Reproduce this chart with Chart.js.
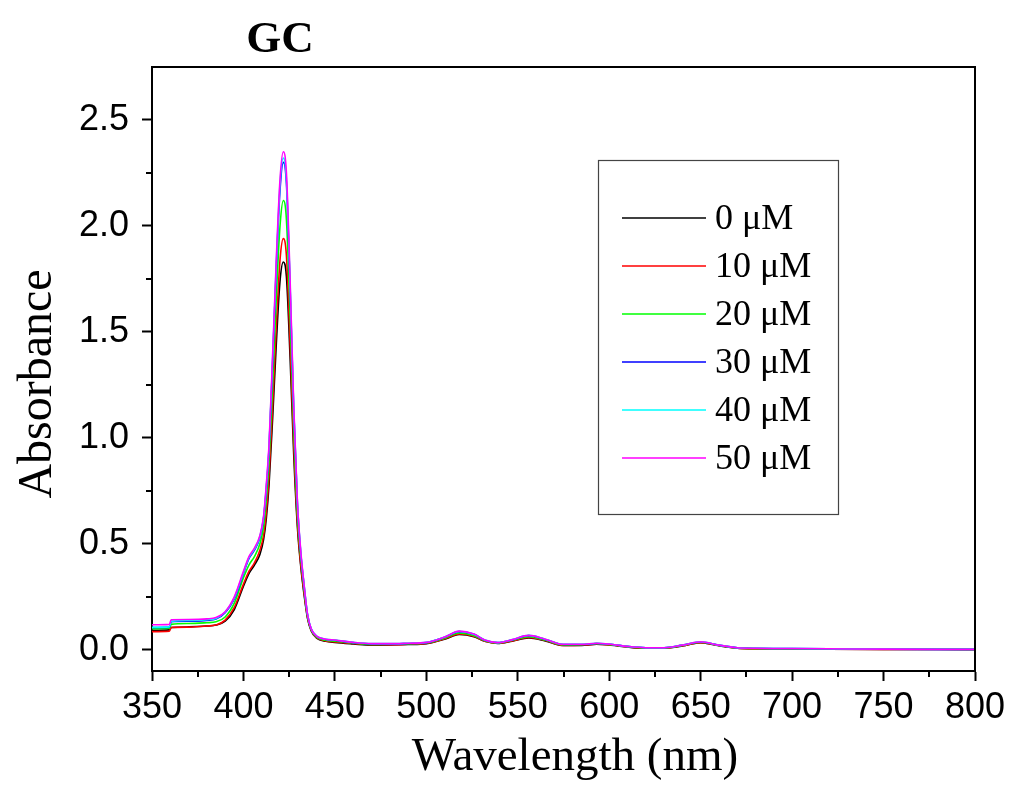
<!DOCTYPE html>
<html>
<head>
<meta charset="utf-8">
<script src="https://cdn.jsdelivr.net/npm/chart.js@4.4.0/dist/chart.umd.min.js"></script>
<style>
  html,body{ margin:0; padding:0; background:#fff; }
  #wrap{ width:1011px; height:795px; }
</style>
</head>
<body>
<div id="wrap"><canvas id="chart" width="1011" height="795"></canvas></div>
<script>
// ---- dados ----
const wavelength = [350,359.5,360.5,370,380,385,390,395,400,403,
  406,409,411,412.5,414,416,418,420,421.8,423.5,
  425.5,427.5,429.5,431.5,433,435,437,440,445,450,
  460,470,480,490,500,510,518,526,532,539,
  547,556,565,575,585,593,601,610,620,630,
  640,650,660,670,680,700,720,750,800];

const abs0uM = [0.092,0.094,0.105,0.108,0.112,0.117,0.135,0.19,0.30,0.36,
  0.40,0.45,0.52,0.62,0.78,1.10,1.45,1.74,1.83,1.76,
  1.38,0.92,0.58,0.38,0.27,0.15,0.09,0.055,0.040,0.035,
  0.028,0.022,0.023,0.025,0.029,0.050,0.072,0.062,0.040,0.030,
  0.041,0.056,0.042,0.020,0.021,0.026,0.022,0.013,0.007,0.008,
  0.018,0.033,0.019,0.008,0.005,0.004,0.003,0.002,0.001];

const abs10uM = [0.086,0.088,0.105,0.107,0.112,0.117,0.14,0.20,0.31,0.37,
  0.41,0.47,0.54,0.65,0.82,1.16,1.53,1.84,1.94,1.86,
  1.45,0.97,0.60,0.39,0.28,0.154,0.092,0.057,0.042,0.037,
  0.030,0.024,0.024,0.026,0.030,0.052,0.075,0.064,0.041,0.031,
  0.042,0.058,0.044,0.021,0.022,0.027,0.023,0.014,0.008,0.008,
  0.019,0.034,0.020,0.008,0.005,0.004,0.003,0.002,0.001];

const abs20uM = [0.100,0.102,0.120,0.124,0.128,0.132,0.155,0.22,0.34,0.40,
  0.44,0.50,0.58,0.71,0.89,1.26,1.67,2.00,2.12,2.03,
  1.58,1.05,0.64,0.42,0.30,0.16,0.095,0.060,0.045,0.041,
  0.032,0.025,0.026,0.028,0.032,0.055,0.080,0.068,0.043,0.032,
  0.045,0.062,0.046,0.023,0.024,0.029,0.024,0.015,0.009,0.009,
  0.020,0.036,0.021,0.009,0.006,0.005,0.004,0.003,0.002];

const abs30uM = [0.105,0.107,0.133,0.135,0.139,0.145,0.175,0.24,0.36,0.43,
  0.47,0.53,0.62,0.76,0.95,1.37,1.81,2.17,2.30,2.20,
  1.71,1.13,0.69,0.44,0.315,0.168,0.099,0.064,0.049,0.045,
  0.034,0.028,0.028,0.030,0.034,0.059,0.086,0.073,0.045,0.034,
  0.047,0.067,0.049,0.025,0.025,0.030,0.026,0.016,0.010,0.010,
  0.022,0.037,0.022,0.010,0.007,0.006,0.005,0.003,0.002];

const abs40uM = [0.106,0.108,0.135,0.138,0.142,0.148,0.178,0.245,0.365,0.435,
  0.475,0.535,0.625,0.77,0.96,1.39,1.83,2.20,2.32,2.22,
  1.73,1.14,0.695,0.445,0.318,0.169,0.100,0.065,0.050,0.046,
  0.035,0.029,0.029,0.031,0.035,0.060,0.087,0.074,0.046,0.034,
  0.048,0.068,0.050,0.026,0.026,0.031,0.026,0.016,0.010,0.010,
  0.022,0.038,0.022,0.010,0.007,0.006,0.005,0.003,0.002];

const abs50uM = [0.118,0.120,0.142,0.143,0.146,0.152,0.18,0.25,0.37,0.44,
  0.48,0.54,0.63,0.78,0.97,1.40,1.85,2.22,2.35,2.25,
  1.75,1.15,0.70,0.45,0.32,0.17,0.10,0.065,0.050,0.046,
  0.035,0.029,0.029,0.031,0.035,0.060,0.088,0.074,0.046,0.034,
  0.048,0.068,0.050,0.026,0.026,0.031,0.026,0.016,0.010,0.010,
  0.022,0.038,0.022,0.010,0.007,0.006,0.005,0.003,0.002];

const seriesLabels = ['0 μM','10 μM','20 μM','30 μM','40 μM','50 μM'];
const seriesColors = ['#000000','#ff0000','#00ff00','#0000ff','#00ffff','#ff00ff'];
const xTicks = [350,400,450,500,550,600,650,700,750,800];
const yTicks = [0,0.5,1,1.5,2,2.5];
const yTickLabels = ['0.0','0.5','1.0','1.5','2.0','2.5'];
const chartTitle = 'GC';
const xTitle = 'Wavelength (nm)';
const yTitle = 'Absorbance';

const allSeries = [abs0uM, abs10uM, abs20uM, abs30uM, abs40uM, abs50uM];

// ---- plugins auxiliares ----
const SANS = "'Liberation Sans', Arial, sans-serif";
const SERIF = "'Liberation Serif', 'Times New Roman', serif";

// moldura de cima/direita, ticks menores e textos (título e eixos)
const framePlugin = {
  id: 'frame',
  afterDraw(chart){
    const {ctx, chartArea: a, scales:{x, y}} = chart;
    ctx.save();
    ctx.strokeStyle = '#000';
    ctx.lineWidth = 2;
    ctx.beginPath();
    ctx.moveTo(a.left, a.top); ctx.lineTo(a.right, a.top); ctx.lineTo(a.right, a.bottom);
    ctx.stroke();
    // ticks menores (meio caminho entre os maiores)
    ctx.beginPath();
    for (let i = 0; i < xTicks.length - 1; i++){
      const px = Math.round(x.getPixelForValue((xTicks[i] + xTicks[i+1]) / 2));
      ctx.moveTo(px, a.bottom); ctx.lineTo(px, a.bottom + 6);
    }
    for (let i = 0; i < yTicks.length - 1; i++){
      const py = Math.round(y.getPixelForValue((yTicks[i] + yTicks[i+1]) / 2));
      ctx.moveTo(a.left, py); ctx.lineTo(a.left - 6, py);
    }
    ctx.stroke();

    ctx.fillStyle = '#000';
    ctx.textAlign = 'center';
    ctx.textBaseline = 'alphabetic';
    // título
    ctx.font = `bold 45px ${SERIF}`;
    ctx.fillText(chartTitle, 280, 52);
    // título eixo x
    ctx.font = `47px ${SERIF}`;
    ctx.fillText(xTitle, 575, 770);
    // título eixo y (rotacionado)
    ctx.translate(51, 384);
    ctx.rotate(-Math.PI / 2);
    ctx.font = `48px ${SERIF}`;
    ctx.fillText(yTitle, 0, 0);
    ctx.restore();
  }
};

// legenda dentro do gráfico
const legendPlugin = {
  id: 'boxLegend',
  afterDraw(chart){
    const {ctx} = chart;
    ctx.save();
    ctx.strokeStyle = '#444';
    ctx.lineWidth = 1.2;
    ctx.strokeRect(598.5, 160.5, 240, 354);
    ctx.font = `36px ${SERIF}`;
    ctx.textBaseline = 'middle';
    ctx.textAlign = 'left';
    chart.data.datasets.forEach((ds, i) => {
      const yy = 218 + i * 48;
      ctx.strokeStyle = ds.borderColor;
      ctx.lineWidth = 1.5;
      ctx.beginPath(); ctx.moveTo(622, yy); ctx.lineTo(706, yy); ctx.stroke();
      ctx.fillStyle = '#000';
      ctx.fillText(ds.label, 715, yy + 2);
    });
    ctx.restore();
  }
};

const datasets = allSeries.map((arr, i) => ({
  label: seriesLabels[i],
  data: wavelength.map((w, k) => ({x: w, y: arr[k]})),
  borderColor: seriesColors[i],
  backgroundColor: seriesColors[i],
  borderWidth: 1.6,
  pointRadius: 0,
  fill: false,
  cubicInterpolationMode: 'monotone',
  order: allSeries.length - i
}));

new Chart(document.getElementById('chart'), {
  type: 'line',
  data: { datasets },
  plugins: [framePlugin, legendPlugin],
  options: {
    responsive: false,
    animation: false,
    devicePixelRatio: 1,
    layout: { padding: { top: 67, right: 36, left: 0, bottom: 0 } },
    plugins: { legend: { display: false }, tooltip: { enabled: false } },
    scales: {
      x: {
        type: 'linear', min: 350, max: 800,
        afterFit: s => { s.height = 124; },
        afterBuildTicks: s => { s.ticks = xTicks.map(v => ({value: v})); },
        border: { color: '#000', width: 2 },
        grid: { drawOnChartArea: false, drawTicks: true, tickLength: 10, color: '#000', tickWidth: 2 },
        ticks: { color: '#000', font: { family: SANS, size: 36 }, padding: 5, maxRotation: 0, autoSkip: false,
                 callback: v => String(v) },
        title: { display: false }
      },
      y: {
        type: 'linear', min: -0.1, max: 2.75,
        afterFit: s => { s.width = 152; },
        afterBuildTicks: s => { s.ticks = yTicks.map(v => ({value: v})); },
        border: { color: '#000', width: 2 },
        grid: { drawOnChartArea: false, drawTicks: true, tickLength: 10, color: '#000', tickWidth: 2 },
        ticks: { color: '#000', font: { family: SANS, size: 36 }, padding: 13, autoSkip: false,
                 callback: v => yTickLabels[yTicks.indexOf(v)] ?? '' },
        title: { display: false }
      }
    }
  }
});
</script>
</body>
</html>
